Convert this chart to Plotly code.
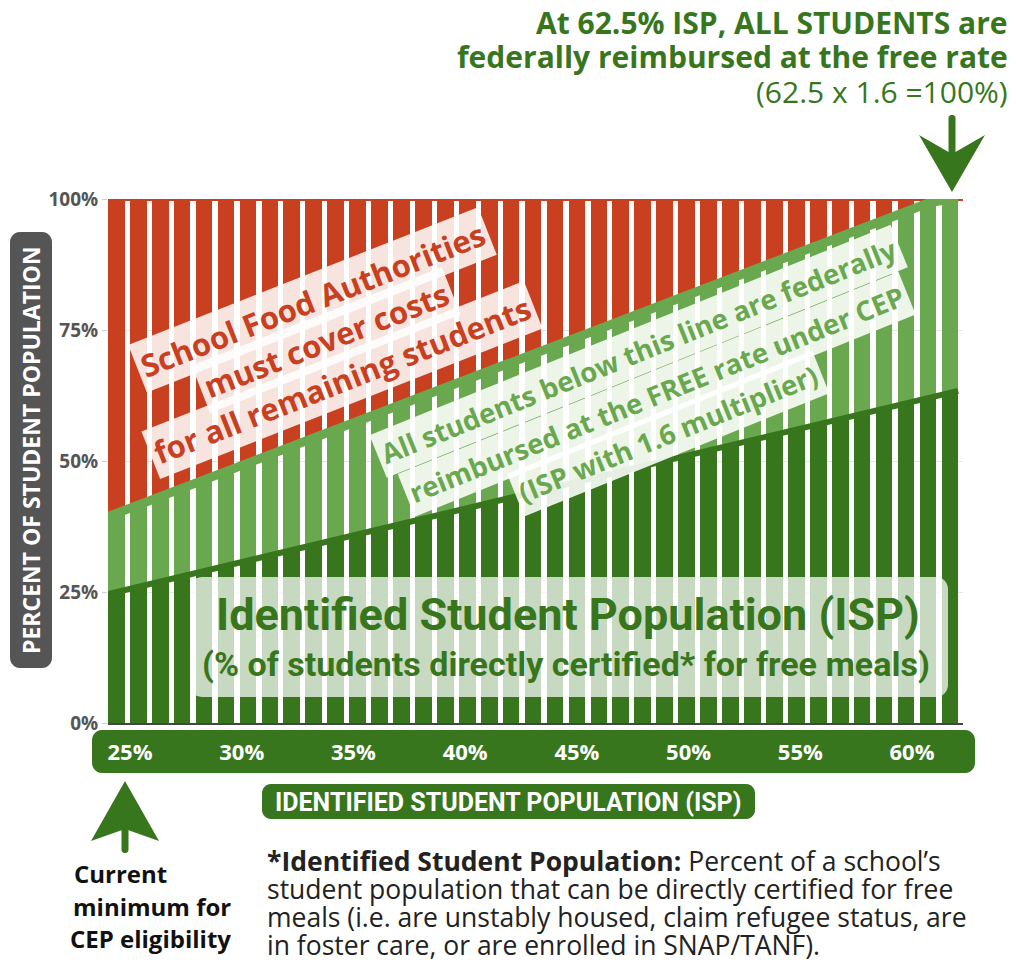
import math
import plotly.graph_objects as go

# ---------------- data ----------------
isp = [25, 26, 27, 28, 29, 30, 31, 32, 33, 34, 35, 36, 37, 38, 39, 40, 41, 42, 43,
       44, 45, 46, 47, 48, 49, 50, 51, 52, 53, 54, 55, 56, 57, 58, 59, 60, 61, 62, 63]
free_rate_total = [40.0, 41.6, 43.2, 44.8, 46.4, 48.0, 49.6, 51.2, 52.8, 54.4, 56.0,
                   57.6, 59.2, 60.8, 62.4, 64.0, 65.6, 67.2, 68.8, 70.4, 72.0, 73.6,
                   75.2, 76.8, 78.4, 80.0, 81.6, 83.2, 84.8, 86.4, 88.0, 89.6, 91.2,
                   92.8, 94.4, 96.0, 97.6, 99.2, 100.0]
x_tick_values = [25, 30, 35, 40, 45, 50, 55, 60]
x_tick_labels = ["25%", "30%", "35%", "40%", "45%", "50%", "55%", "60%"]
y_tick_values = [0, 25, 50, 75, 100]
y_tick_labels = ["0%", "25%", "50%", "75%", "100%"]

# ---------------- style ----------------
RED = "#c8401f"
LIGHT = "#6aa84f"
DARK = "#38761d"
GREY = "#555555"
W, H = 1016, 963
L, R, T, B = 108, 53, 199, 240
PW, PH = W - L - R, H - T - B
BAR_W = 0.76
HW = BAR_W / 2
X_RANGE = [24.62, 63.6]
X2_RANGE = [24.015, 62.282]


def px(x):
    return (x - L) / PW


def py(y):
    return (H - B - y) / PH


def path_from_pixels(points, close=True):
    s = ""
    for i, (a, b) in enumerate(points):
        s += ("M" if i == 0 else "L") + f"{px(a):.5f},{py(b):.5f} "
    return s + ("Z" if close else "")


def rounded_rect(x0, y0, x1, y1, r):
    pts = []
    corners = [(x1 - r, y0 + r, -90), (x1 - r, y1 - r, 0), (x0 + r, y1 - r, 90), (x0 + r, y0 + r, 180)]
    for cx, cy, start in corners:
        for k in range(7):
            ang = math.radians(start + k * 15)
            pts.append((cx + r * math.cos(ang), cy + r * math.sin(ang)))
    return path_from_pixels(pts)


light_seg = [f - i for f, i in zip(free_rate_total, isp)]
red_seg = [100 - f for f in free_rate_total]


def extend(vals):
    s0 = (vals[1] - vals[0]) / (isp[1] - isp[0])
    s1 = (vals[-1] - vals[-2]) / (isp[-1] - isp[-2])
    return [vals[0] - HW * s0] + list(vals) + [min(100, vals[-1] + HW * s1)]


x_ext = [isp[0] - HW] + isp + [isp[-1] + HW]

fig = go.Figure()
for seg, col in [(isp, DARK), (light_seg, LIGHT), (red_seg, RED)]:
    fig.add_trace(go.Bar(x=isp, y=seg, width=BAR_W, marker=dict(color=col, line=dict(width=0)),
                         hoverinfo="skip", showlegend=False))

fig.add_trace(go.Scatter(x=X_RANGE, y=[100, 100], mode="lines", line=dict(color=RED, width=4),
                         hoverinfo="skip", showlegend=False))
fig.add_trace(go.Scatter(x=x_ext, y=extend(free_rate_total), mode="lines",
                         line=dict(color=LIGHT, width=9), hoverinfo="skip", showlegend=False))
fig.add_trace(go.Scatter(x=x_ext, y=extend(isp), mode="lines",
                         line=dict(color=DARK, width=6), hoverinfo="skip", showlegend=False))
# invisible trace so the label axis is drawn
fig.add_trace(go.Scatter(x=x_tick_values, y=[0] * len(x_tick_values), xaxis="x2", mode="markers",
                         marker=dict(opacity=0), hoverinfo="skip", showlegend=False))

shapes = []
shapes.append(dict(type="path", path=rounded_rect(92, 730, 975, 773, 10), xref="paper", yref="paper",
                   fillcolor=DARK, line=dict(width=0), layer="below"))
shapes.append(dict(type="path", path=rounded_rect(262, 784, 755, 819, 9), xref="paper", yref="paper",
                   fillcolor=DARK, line=dict(width=0), layer="below"))
shapes.append(dict(type="path", path=rounded_rect(10, 232, 52, 668, 10), xref="paper", yref="paper",
                   fillcolor=GREY, line=dict(width=0), layer="below"))
shapes.append(dict(type="path", path=rounded_rect(190, 577, 948, 697, 12), xref="paper", yref="paper",
                   fillcolor="rgba(255,255,255,0.72)", line=dict(width=0), layer="above"))
# up arrow
shapes.append(dict(type="path", path=path_from_pixels([(125, 781), (159, 841), (125, 829), (91, 841)]),
                   xref="paper", yref="paper", fillcolor=DARK, line=dict(width=0)))
shapes.append(dict(type="path", path=rounded_rect(121.5, 825, 128.5, 853, 3), xref="paper", yref="paper",
                   fillcolor=DARK, line=dict(width=0)))
# down arrow
shapes.append(dict(type="path", path=path_from_pixels([(952, 192), (985, 135), (952, 154), (919, 135)]),
                   xref="paper", yref="paper", fillcolor=DARK, line=dict(width=0)))
shapes.append(dict(type="path", path=rounded_rect(948.5, 115, 955.5, 158, 3), xref="paper", yref="paper",
                   fillcolor=DARK, line=dict(width=0)))

ann = []


def add_text(text, x, y, size, color, family="Open Sans", xanchor="center", yanchor="middle",
             align="center", angle=0, bg=None, pad=0):
    d = dict(text=text, x=px(x), y=py(y), xref="paper", yref="paper", showarrow=False,
             font=dict(family=family, size=size, color=color), xanchor=xanchor, yanchor=yanchor,
             align=align, textangle=angle)
    if bg:
        d["bgcolor"] = bg
        d["borderpad"] = pad
    ann.append(d)


# red annotation
for txt, cx, cy in [("School Food Authorities", 312, 300),
                    ("must cover costs", 326, 340),
                    ("for all remaining students", 342, 380)]:
    add_text(f"<b>{txt}</b>", cx, cy, 31, RED, angle=-21.5, bg="rgba(255,255,255,0.86)", pad=4)

# green annotation
for txt, cx, cy in [("All students below this line are federally", 638, 351),
                    ("reimbursed at the FREE rate under CEP", 656, 394),
                    ("(ISP with 1.6 multiplier)", 668, 433)]:
    add_text(f"<b>{txt}</b>", cx, cy, 27.5, LIGHT, angle=-22, bg="rgba(255,255,255,0.88)", pad=4)

# ISP box text
add_text("<b>Identified Student Population (ISP)</b>", 568, 614, 45, DARK, family="Roboto")
add_text("<b>(% of students directly certified* for free meals)</b>", 566, 664, 34, DARK, family="Roboto")

# top right
add_text("<b>At 62.5% ISP, ALL STUDENTS are</b>", 1010, 22, 30, DARK, xanchor="right")
add_text("<b>federally reimbursed at the free rate</b>", 1010, 57, 30, DARK, xanchor="right")
add_text("(62.5 x 1.6 =100%)", 1010, 91, 30, DARK, xanchor="right")

# y title
add_text("<b>PERCENT OF STUDENT POPULATION</b>", 31, 450, 23, "white", angle=-90)
# x title
add_text("<b>IDENTIFIED STUDENT POPULATION (ISP)</b>", 508, 802, 25, "white", family="Roboto")

# bottom left
for txt, cx, cy in [("Current", 72, 873), ("minimum for", 71, 906), ("CEP eligibility", 68, 938)]:
    add_text(f"<b>{txt}</b>", cx, cy, 24, "#111", xanchor="left", align="left")

# footnote
foot_lines = ["<b>*Identified Student Population:</b> Percent of a school’s",
              "student population that can be directly certified for free",
              "meals (i.e. are unstably housed, claim refugee status, are",
              "in foster care, or are enrolled in SNAP/TANF)."]
for i, txt in enumerate(foot_lines):
    add_text(txt, 265, 861 + 28 * i, 26.5, "#222", xanchor="left", align="left")

fig.update_layout(
    width=W, height=H, margin=dict(l=L, r=R, t=T, b=B, autoexpand=False),
    paper_bgcolor="white", plot_bgcolor="white", barmode="stack", bargap=0,
    showlegend=False, shapes=shapes, annotations=ann,
    xaxis=dict(range=X_RANGE, showticklabels=False, showgrid=False, zeroline=False,
               showline=True, linecolor="#444", linewidth=1.5, ticks=""),
    xaxis2=dict(range=X2_RANGE, overlaying="x", anchor="y", side="bottom", tickvals=x_tick_values,
                ticktext=[f"<b>{t}</b>" for t in x_tick_labels], showgrid=False, zeroline=False,
                showline=False, ticks="", ticklabelstandoff=14,
                tickfont=dict(family="Open Sans", size=22, color="white")),
    yaxis=dict(range=[0, 100], tickvals=y_tick_values, ticktext=[f"<b>{t}</b>" for t in y_tick_labels],
               showgrid=True, gridcolor="#e4e4e4", gridwidth=1, zeroline=False, ticks="outside",
               ticklen=5, tickcolor="#d0d0d0", tickfont=dict(family="Open Sans", size=19, color=GREY)),
)

fig.write_html("out.html", config={"displayModeBar": False},
               post_script="document.body.style.margin='0';document.body.style.overflow='hidden';")
